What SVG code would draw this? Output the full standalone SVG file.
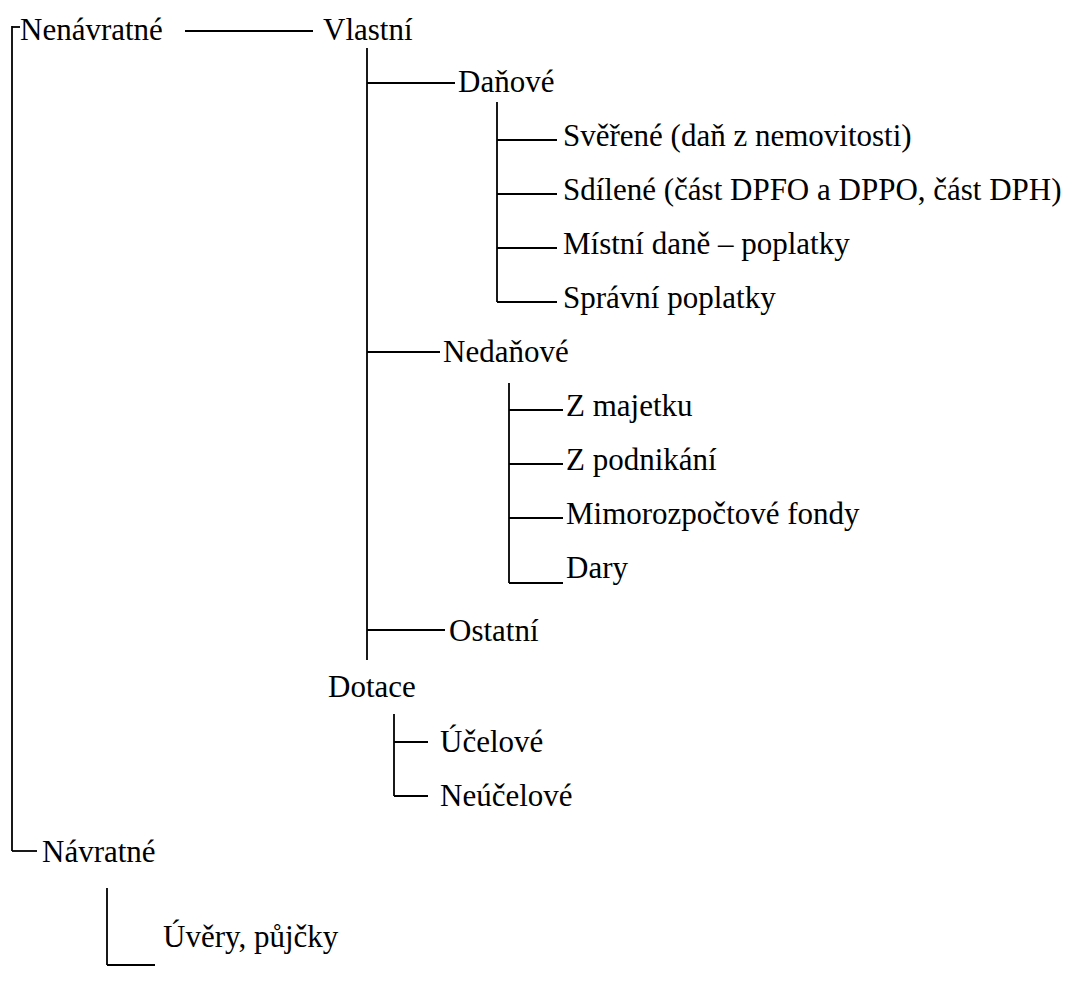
<svg xmlns="http://www.w3.org/2000/svg" width="1084" height="985" viewBox="0 0 1084 985">
<style>
text{font-family:"Liberation Serif","Times New Roman",serif;font-size:31px;fill:#000}
.c line{stroke:#000;stroke-width:1.8;fill:none}
</style>
<rect width="1084" height="985" fill="#fff"/>
<g class="c" id="connectors">
<line x1="12" y1="27" x2="20" y2="27"/>
<line x1="12" y1="26" x2="12" y2="851"/>
<line x1="12" y1="851" x2="37" y2="851"/>
<line x1="185" y1="31" x2="313" y2="31"/>
<line x1="367" y1="48" x2="367" y2="660"/>
<line x1="367" y1="83" x2="455" y2="83"/>
<line x1="497" y1="102" x2="497" y2="302"/>
<line x1="497" y1="140" x2="557" y2="140"/>
<line x1="497" y1="194" x2="557" y2="194"/>
<line x1="497" y1="248" x2="557" y2="248"/>
<line x1="497" y1="302" x2="557" y2="302"/>
<line x1="367" y1="352" x2="440" y2="352"/>
<line x1="509" y1="383" x2="509" y2="583"/>
<line x1="509" y1="410" x2="563" y2="410"/>
<line x1="509" y1="464" x2="563" y2="464"/>
<line x1="509" y1="518" x2="563" y2="518"/>
<line x1="509" y1="583" x2="563" y2="583"/>
<line x1="367" y1="630" x2="445" y2="630"/>
<line x1="394" y1="714" x2="394" y2="796"/>
<line x1="394" y1="742" x2="428" y2="742"/>
<line x1="394" y1="796" x2="428" y2="796"/>
<line x1="107" y1="888" x2="107" y2="965"/>
<line x1="107" y1="965" x2="155" y2="965"/>
</g>
<g id="n-nenavratne"><text x="20" y="40">Nenávratné</text></g>
<g id="n-vlastni"><text x="323" y="40">Vlastní</text></g>
<g id="n-danove"><text x="458" y="92">Daňové</text></g>
<g id="n-sverene"><text x="563" y="146">Svěřené (daň z nemovitosti)</text></g>
<g id="n-sdilene"><text x="563" y="200">Sdílené (část DPFO a DPPO, část DPH)</text></g>
<g id="n-mistni"><text x="563" y="254">Místní daně – poplatky</text></g>
<g id="n-spravni"><text x="563" y="308">Správní poplatky</text></g>
<g id="n-nedanove"><text x="443" y="362">Nedaňové</text></g>
<g id="n-zmajetku"><text x="566" y="416">Z majetku</text></g>
<g id="n-zpodnikani"><text x="566" y="470">Z podnikání</text></g>
<g id="n-mimo"><text x="566" y="524">Mimorozpočtové fondy</text></g>
<g id="n-dary"><text x="566" y="578">Dary</text></g>
<g id="n-ostatni"><text x="449" y="641">Ostatní</text></g>
<g id="n-dotace"><text x="328" y="697">Dotace</text></g>
<g id="n-ucelove"><text x="440" y="752">Účelové</text></g>
<g id="n-neucelove"><text x="440" y="806">Neúčelové</text></g>
<g id="n-navratne"><text x="42" y="862">Návratné</text></g>
<g id="n-uvery"><text x="163" y="947">Úvěry, půjčky</text></g>
</svg>
